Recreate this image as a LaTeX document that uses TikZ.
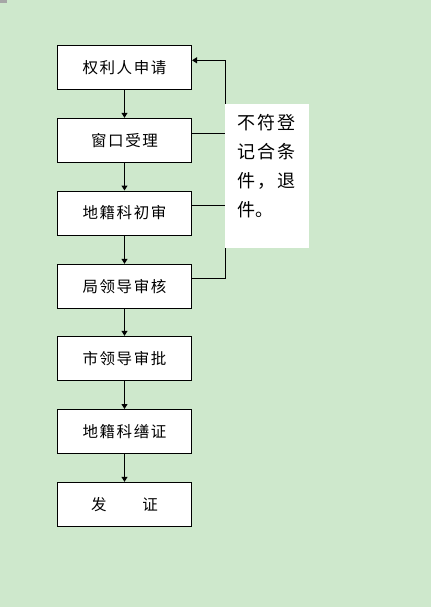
\documentclass[tikz,border=0pt]{standalone}
\usepackage{fontspec}
\newfontfamily\cjk{Noto Sans CJK SC}
\usetikzlibrary{arrows.meta}
\newcommand{\gp}{\hspace{1.6pt}}
\newcommand{\gq}{\hspace{2pt}}
\definecolor{bggreen}{RGB}{206,232,204}
\tikzset{
  stepbox/.style={draw=black, line width=1pt, fill=white, minimum width=134pt, minimum height=44pt,
    inner sep=0pt, font=\cjk\fontsize{15.5}{18}\selectfont},
  conn/.style={line width=1pt, draw=black},
  arr/.style={conn, -{Triangle[width=6pt,length=5pt]}},
}
\begin{document}
\begin{tikzpicture}[x=1pt,y=-1pt]
\fill[bggreen] (0,0) rectangle (431,607);
\useasboundingbox (0,0) rectangle (431,607);
\fill[gray!70] (0,0) rectangle (7,3);
% boxes
\node[stepbox] (b1) at (124.5,67.3) {权\gp 利\gp 人\gp 申\gp 请};
\node[stepbox] (b2) at (124.5,140.3) {窗\gp 口\gp 受\gp 理};
\node[stepbox] (b3) at (124.5,213.0) {地\gp 籍\gp 科\gp 初\gp 审};
\node[stepbox] (b4) at (124.5,286.3) {局\gp 领\gp 导\gp 审\gp 核};
\node[stepbox] (b5) at (124.5,358.3) {市\gp 领\gp 导\gp 审\gp 批};
\node[stepbox] (b6) at (124.5,431.5) {地\gp 籍\gp 科\gp 缮\gp 证};
\node[stepbox] (b7) at (124.5,504.3) {发\gp \hspace{1em}\gp \hspace{1em}\gp 证};
% down arrows
\foreach \a/\b in {b1/b2,b2/b3,b3/b4,b4/b5,b5/b6,b6/b7}
  \draw[arr] (\a.south) -- (\b.north);
% feedback lines
\coordinate (fTop) at (225.3,60.3);
\coordinate (fBot) at (225.3,278.0);
\draw[conn] (b4.east |- fBot) -- (fBot) -- (fTop);
\draw[arr] (fTop) -- (b1.east |- fTop);
\draw[conn] (b2.east |- 0,133.3) -- (225.3,133.3);
\draw[conn] (b3.east |- 0,205.3) -- (225.3,205.3);
% note box
\fill[white] (225.3,103.7) rectangle (309,248.3);
\node[anchor=north west, align=left, inner sep=0pt, font=\cjk\fontsize{18}{29}\selectfont]
  (note) at (237.5,114.5) {不\gq 符\gq 登\\记\gq 合\gq 条\\件\gq ，\gq 退\\件。};
\end{tikzpicture}
\end{document}
